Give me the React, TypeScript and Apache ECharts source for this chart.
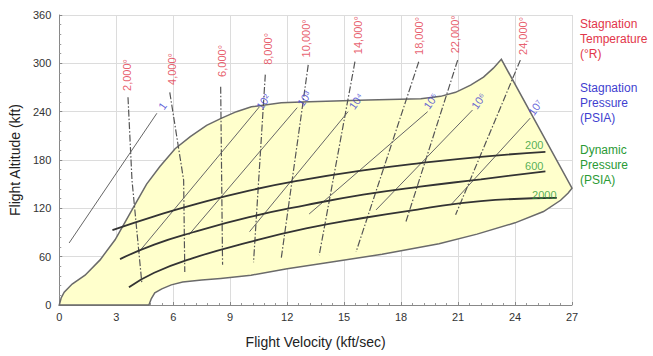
import React, { useEffect, useRef } from "react";
import * as echarts from "echarts";

// Flight envelope outline (velocity kft/s, altitude kft)
const envelope: [number, number][] = [
  [0, 0], [0.1, 8.7], [0.26, 16], [0.68, 26], [1.36, 37], [2.15, 56], [2.94, 81],
  [3.83, 118], [4.6, 150], [5.3, 172], [6.1, 194], [6.9, 209], [7.76, 223], [8.55, 232],
  [9.33, 240], [10.12, 246], [11.69, 251], [12.74, 252], [16.26, 254.5], [19.04, 256],
  [20.08, 259], [20.87, 264], [21.66, 273], [22.34, 283], [22.86, 294], [23.28, 305],
  [27, 145], [26.8, 139], [26.4, 130], [25.5, 116], [24, 102], [22, 88], [20, 76],
  [17, 63], [14, 52], [12, 45], [10.1, 37], [8.5, 33], [7.5, 31], [6.5, 28.5],
  [5.9, 25], [5.4, 20], [5.03, 15], [4.85, 8], [4.72, 0],
];

// Stagnation temperature (dash-dot)
const tempNames = ["2,000°", "4,000°", "6,000°", "8,000°", "10,000°", "14,000°", "18,000°", "22,000°", "24,000°"];
const tempLines: [number, number][][] = [
  [[3.62, 258], [3.83, 155], [4.35, 27]],
  [[5.82, 264], [6.55, 155], [6.61, 41]],
  [[8.5, 271], [8.6, 50]],
  [[10.85, 286], [10.23, 53]],
  [[13.11, 298], [11.69, 58]],
  [[15.57, 302], [13.69, 62]],
  [[18.93, 302], [15.63, 66]],
  [[20.98, 304], [18.25, 103]],
  [[24.28, 304], [20.87, 112]],
];
const tempLabelPos: [number, number][] = [
  [3.57, 285.5], [5.93, 293], [8.55, 303], [11.01, 318], [13.0, 331],
  [15.73, 335], [18.93, 334], [20.82, 336], [24.44, 334],
];

// Stagnation pressure (solid thin)
const pressNames = ["1", "10²", "10³", "10⁴", "10⁵", "10⁶", "10⁷"];
const pressLines: [number, number][][] = [
  [[0.52, 77], [5.14, 238]],
  [[4.2, 66], [10.54, 246]],
  [[6.82, 87], [12.53, 245]],
  [[10.02, 91], [15.21, 240]],
  [[13.16, 113], [19.4, 240]],
  [[16.68, 118], [21.76, 242]],
  [[20.61, 124], [24.8, 232]],
];
const pressLabelPos: [number, number][] = [
  [5.44, 247], [10.75, 252], [12.9, 256], [15.63, 253], [19.56, 253], [22.08, 253], [25.07, 245],
];

// Dynamic pressure (thick)
const dynNames = ["200", "600", "2000"];
const dynLines: [number, number][][] = [
  [[2.8, 93], [5, 110], [7, 124], [10, 142], [13, 156], [16, 167], [19, 176], [22.2, 184], [25.6, 190]],
  [[3.2, 57], [5, 75], [7, 90], [10, 109], [13, 124], [16, 137], [19, 147], [22.2, 156], [25.6, 166]],
  [[3.67, 22], [5, 40], [7, 58], [10, 78], [13, 95], [16, 108], [19, 119], [22.2, 129], [26.2, 133]],
];
const dynLabelPos: [number, number][] = [[25.01, 198.6], [25.01, 172.5], [25.54, 136.6]];

const legendTemp = ["Stagnation", "Temperature", "(°R)"];
const legendPress = ["Stagnation", "Pressure", "(PSIA)"];
const legendDyn = ["Dynamic", "Pressure", "(PSIA)"];

const RED = "#e2364a";
const BLUE = "#3f3fd0";
const GREEN = "#2a9a35";
const FONT = "Arial, 'Liberation Sans', sans-serif";

export default function App() {
  const ref = useRef<HTMLDivElement>(null);
  useEffect(() => {
    if (!ref.current) return;
    const chart = echarts.init(ref.current, undefined, { renderer: "svg" });
    const series: any[] = [];
    series.push({
      type: "custom",
      silent: true,
      z: 1,
      data: [[0, 0]],
      renderItem: (params: any, api: any) => {
        const pts = envelope.map((p) => api.coord(p));
        return {
          type: "polygon",
          shape: { points: pts },
          style: { fill: "#ffffcc", stroke: "#6a6a6a", lineWidth: 1.5 },
        };
      },
    });
    tempLines.forEach((l) =>
      series.push({
        type: "line", data: l, symbol: "none", z: 3, silent: true,
        lineStyle: { color: "#555", width: 1.2, type: [7, 2, 1.5, 2] },
      })
    );
    pressLines.forEach((l) =>
      series.push({
        type: "line", data: l, symbol: "none", z: 3, silent: true,
        lineStyle: { color: "#666", width: 1 },
      })
    );
    dynLines.forEach((l) =>
      series.push({
        type: "line", data: l, symbol: "none", smooth: true, z: 4, silent: true,
        lineStyle: { color: "#333", width: 1.8 },
      })
    );
    const labelSeries = (names: string[], pos: [number, number][], color: string, rotate: number, size: number) => ({
      type: "scatter",
      symbolSize: 0,
      z: 6,
      silent: true,
      data: names.map((n, i) => ({ name: n, value: pos[i] })),
      label: {
        show: true,
        position: "inside",
        formatter: (p: any) => p.name,
        color,
        fontSize: size,
        fontFamily: FONT,
        rotate,
        align: "center",
        verticalAlign: "middle",
      },
    });
    series.push(labelSeries(tempNames, tempLabelPos, RED, 90, 11));
    series.push(labelSeries(pressNames, pressLabelPos, BLUE, 55, 11));
    series.push(labelSeries(dynNames, dynLabelPos, GREEN, 0, 11));

    const legendText = (lines: string[], color: string, top: number) =>
      lines.map((t, i) => ({
        type: "text",
        left: 580,
        top: top + i * 15,
        style: { text: t, fill: color, font: `12px ${FONT}` },
      }));

    chart.setOption({
      animation: false,
      grid: { left: 57, right: 81, top: 15, bottom: 51 },
      xAxis: {
        type: "value", min: 0, max: 27, interval: 3,
        name: "Flight Velocity (kft/sec)", nameLocation: "middle", nameGap: 30,
        nameTextStyle: { fontSize: 14, color: "#222", fontFamily: FONT },
        axisLine: { lineStyle: { color: "#888" } },
        axisTick: { show: true, inside: true, length: 3, lineStyle: { color: "#888" } },
        minorTick: { show: true, splitNumber: 5, length: 2, lineStyle: { color: "#999" } },
        axisLabel: { color: "#333", fontSize: 11, fontFamily: FONT, margin: 6 },
        splitLine: { show: true, lineStyle: { color: "#dcdcdc" } },
      },
      yAxis: {
        type: "value", min: 0, max: 360, interval: 60,
        name: "Flight Altitude (kft)", nameLocation: "middle", nameGap: 31,
        nameTextStyle: { fontSize: 14, color: "#222", fontFamily: FONT },
        axisLine: { show: true, lineStyle: { color: "#888" } },
        axisTick: { show: true, inside: true, length: 3, lineStyle: { color: "#888" } },
        minorTick: { show: true, splitNumber: 5, length: 2, lineStyle: { color: "#999" } },
        axisLabel: { color: "#333", fontSize: 11, fontFamily: FONT, margin: 8 },
        splitLine: { show: true, lineStyle: { color: "#dcdcdc" } },
      },
      graphic: [
        ...legendText(legendTemp, RED, 18),
        ...legendText(legendPress, BLUE, 82),
        ...legendText(legendDyn, GREEN, 144),
      ],
      series,
    });
    return () => chart.dispose();
  }, []);
  return <div ref={ref} style={{ position: "absolute", left: 0, top: 0, width: 653, height: 356 }} />;
}
